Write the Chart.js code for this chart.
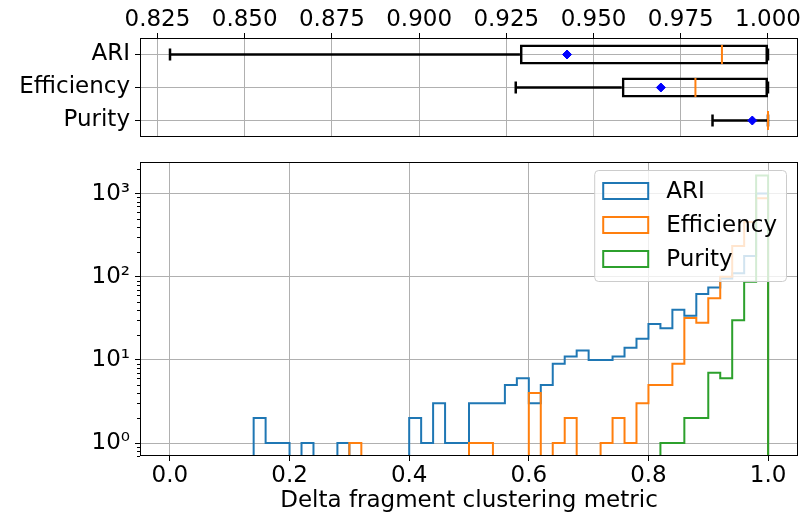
<!DOCTYPE html>
<html>
<head>
<meta charset="utf-8">
<script src="https://cdn.jsdelivr.net/npm/chart.js@4.4.0/dist/chart.umd.min.js"></script>
<style>
  html, body { margin: 0; padding: 0; background: #fff; }
  #wrap { position: relative; width: 802px; height: 518px; }
  canvas { position: absolute; left: 0; top: 0; }
</style>
</head>
<body>
<div id="wrap">
  <canvas id="hist" width="802" height="518"></canvas>
  <canvas id="box" width="802" height="139"></canvas>
</div>
<script>
// ---- data ----
const metrics = ["ARI", "Efficiency", "Purity"];

// box plot summary (top panel)
const whiskerLow = [0.8286, 0.9277, 0.9841];
const q1 = [0.9289, 0.9581, 1.0];
const median = [0.9868, 0.9792, 1.0];
const q3 = [1.0, 1.0, 1.0];
const whiskerHigh = [1.0, 1.0, 1.0];
const means = [0.9424, 0.9693, 0.9955];
const topTicks = [0.825, 0.85, 0.875, 0.9, 0.925, 0.95, 0.975, 1.0];

// histogram counts, 50 bins of width 0.02 over [0, 1]
const ariCounts = [
  0, 0, 0, 0, 0, 0, 0, 2, 1, 1,
  0, 1, 0, 0, 1, 0, 0, 0, 0, 0,
  2, 1, 3, 1, 1, 3, 3, 3, 5, 6,
  3, 5, 9, 11, 13, 10, 10, 11, 14, 18,
  27, 24, 40, 34, 62, 74, 95, 110, 178, 1000
];
const effCounts = [
  0, 0, 0, 0, 0, 0, 0, 0, 0, 0,
  0, 0, 0, 0, 0, 1, 0, 0, 0, 0,
  0, 0, 0, 0, 0, 1, 1, 0, 0, 0,
  4, 0, 1, 2, 0, 0, 1, 2, 1, 3,
  5, 5, 9, 32, 28, 55, 100, 235, 455, 880
];
const purCounts = [
  0, 0, 0, 0, 0, 0, 0, 0, 0, 0,
  0, 0, 0, 0, 0, 0, 0, 0, 0, 0,
  0, 0, 0, 0, 0, 0, 0, 0, 0, 0,
  0, 0, 0, 0, 0, 0, 0, 0, 0, 0,
  0, 1, 1, 2, 2, 7, 6, 30, 87, 1650
];
const binStart = 0, binWidth = 0.02;
const xTicks = [0, 0.2, 0.4, 0.6, 0.8, 1.0];
const logTicks = [1, 10, 100, 1000];

const BLUE = "#1f77b4", ORANGE = "#ff7f0e", GREEN = "#2ca02c";
const GRID = "#b0b0b0";
const FS = 23;

Chart.defaults.font.family = "DejaVu Sans";
Chart.defaults.color = "#000";
Chart.defaults.animation = false;

const frame = {
  id: "frame",
  afterDraw(chart) {
    const a = chart.chartArea, ctx = chart.ctx;
    ctx.save();
    ctx.strokeStyle = "#000";
    ctx.lineWidth = 1;
    ctx.strokeRect(Math.round(a.left) + 0.5, Math.round(a.top) + 0.5,
      Math.round(a.right - a.left) - 1, Math.round(a.bottom - a.top) - 1);
    ctx.restore();
  }
};

// fixed axis sizes, no label overflow padding
const fixW = w => s => { s.width = w; s.paddingTop = 0; s.paddingBottom = 0; };
const fixH = h => s => { s.height = h; s.paddingLeft = 0; s.paddingRight = 0; };

// ---- top: box plot ----
const LW = 2.5;
const boxDatasets = [];
boxDatasets.push({
  type: "line", label: "mean", showLine: false,
  data: metrics.map((m, i) => ({ x: means[i], y: m })),
  pointStyle: "rectRot", pointRadius: 4.5,
  pointBackgroundColor: "#0000ff", pointBorderColor: "#0000ff", pointBorderWidth: 1
});
boxDatasets.push({
  type: "line", label: "median", showLine: false,
  data: metrics.map((m, i) => ({ x: median[i], y: m })),
  pointStyle: "line", pointRotation: 90, pointRadius: 9.5,
  pointBorderColor: ORANGE, pointBorderWidth: 2
});
boxDatasets.push({
  type: "bar", label: "box",
  data: metrics.map((m, i) => [q1[i], q3[i]]),
  backgroundColor: "rgba(0,0,0,0)", borderColor: "#000", borderWidth: LW,
  borderSkipped: false, barPercentage: 0.6, categoryPercentage: 1
});
metrics.forEach((m, i) => {
  boxDatasets.push({
    type: "line", label: "lo " + m,
    data: [{ x: whiskerLow[i], y: m }, { x: q1[i], y: m }],
    borderColor: "#000", borderWidth: LW,
    pointStyle: "line", pointRotation: 90, pointRadius: [6, 0],
    pointBorderColor: "#000", pointBorderWidth: LW
  });
  boxDatasets.push({
    type: "line", label: "hi " + m,
    data: [{ x: q3[i], y: m }, { x: whiskerHigh[i], y: m }],
    borderColor: "#000", borderWidth: LW,
    pointStyle: "line", pointRotation: 90, pointRadius: [0, 6],
    pointBorderColor: "#000", pointBorderWidth: LW
  });
});

new Chart(document.getElementById("box"), {
  type: "bar",
  data: { labels: metrics, datasets: boxDatasets },
  options: {
    responsive: false,
    devicePixelRatio: 1,
    indexAxis: "y",
    layout: { autoPadding: false, padding: { left: 0, right: 4, top: 0, bottom: 2 } },
    plugins: { legend: { display: false }, tooltip: { enabled: false } },
    scales: {
      x: {
        type: "linear", position: "top", min: 0.8200, max: 1.0086,
        afterBuildTicks: s => { s.ticks = topTicks.map(v => ({ value: v })); },
        ticks: { font: { size: FS }, color: "#000", padding: -1, maxRotation: 0, autoSkip: false,
                 callback: v => Number(v).toFixed(3) },
        grid: { color: GRID, lineWidth: 1, tickColor: "#000", tickLength: 5 },
        border: { display: false },
        afterFit: fixH(38)
      },
      y: {
        type: "category", labels: metrics, offset: true,
        ticks: { font: { size: FS }, color: "#000", padding: 5, autoSkip: false },
        grid: { offset: false, color: GRID, lineWidth: 1, tickColor: "#000", tickLength: 5 },
        border: { display: false },
        afterFit: fixW(140)
      }
    }
  },
  plugins: [frame]
});

// ---- bottom: step histograms ----
const FLOOR = 0.05;
function stepPoints(counts) {
  const pts = [{ x: binStart, y: FLOOR }];
  counts.forEach((c, i) => pts.push({ x: binStart + i * binWidth, y: c > 0 ? c : FLOOR }));
  pts.push({ x: binStart + counts.length * binWidth, y: FLOOR });
  return pts;
}

const sup = ["\u2070", "\u00b9", "\u00b2", "\u00b3"];

const minorTicks = {
  id: "minorTicks",
  afterDraw(chart) {
    const s = chart.scales.y, ctx = chart.ctx, a = chart.chartArea;
    ctx.save();
    ctx.strokeStyle = "#000";
    ctx.lineWidth = 1;
    logTicks.concat([0.1]).forEach(base => {
      for (let m = 2; m <= 9; m++) {
        const v = base * m;
        if (v < s.min || v > s.max) continue;
        const y = Math.round(s.getPixelForValue(v)) + 0.5;
        ctx.beginPath();
        ctx.moveTo(a.left - 3, y);
        ctx.lineTo(a.left, y);
        ctx.stroke();
      }
    });
    ctx.restore();
  }
};

const boxLegend = {
  id: "boxLegend",
  afterDraw(chart) {
    const ctx = chart.ctx, a = chart.chartArea;
    const ds = chart.data.datasets;
    const fs = FS, rowH = 34, handleW = 45, handleH = 16;
    ctx.save();
    ctx.font = fs + "px 'DejaVu Sans'";
    const textW = Math.max(...ds.map(d => ctx.measureText(d.label).width));
    const w = 9 + handleW + 18 + textW + 9;
    const h = 111;
    const right = a.right - 12, top = a.top + 8, left = right - w;
    ctx.beginPath();
    ctx.roundRect(left + 0.5, top + 0.5, w, h, 4);
    ctx.fillStyle = "rgba(255,255,255,0.8)";
    ctx.fill();
    ctx.strokeStyle = "#cccccc";
    ctx.lineWidth = 1;
    ctx.stroke();
    ds.forEach((d, i) => {
      const cy = top + 21 + i * rowH;
      ctx.strokeStyle = d.borderColor;
      ctx.lineWidth = 2;
      ctx.strokeRect(left + 9, cy - handleH / 2, handleW, handleH);
      ctx.fillStyle = "#000";
      ctx.textBaseline = "middle";
      ctx.fillText(d.label, left + 9 + handleW + 18, cy + 1);
    });
    ctx.restore();
  }
};

const series = [
  { label: "ARI", counts: ariCounts, color: BLUE },
  { label: "Efficiency", counts: effCounts, color: ORANGE },
  { label: "Purity", counts: purCounts, color: GREEN }
];

new Chart(document.getElementById("hist"), {
  type: "line",
  data: {
    datasets: series.map((s, i) => ({
      label: s.label,
      data: stepPoints(s.counts),
      borderColor: s.color,
      backgroundColor: "rgba(0,0,0,0)",
      borderWidth: 2,
      stepped: true,
      pointRadius: 0,
      fill: false,
      order: series.length - i
    }))
  },
  options: {
    responsive: false,
    devicePixelRatio: 1,
    layout: { autoPadding: false, padding: { left: 0, right: 4, top: 162, bottom: 0 } },
    plugins: { legend: { display: false }, tooltip: { enabled: false } },
    scales: {
      x: {
        type: "linear", min: -0.05, max: 1.05,
        afterBuildTicks: s => { s.ticks = xTicks.map(v => ({ value: v })); },
        ticks: { font: { size: FS }, color: "#000", padding: 1, maxRotation: 0, autoSkip: false,
                 callback: v => Number(v).toFixed(1) },
        grid: { color: GRID, lineWidth: 1, tickColor: "#000", tickLength: 5 },
        border: { display: false },
        title: { display: true, text: "Delta fragment clustering metric", font: { size: FS }, color: "#000", padding: { top: 2, bottom: 3 } },
        afterFit: fixH(62)
      },
      y: {
        type: "logarithmic", min: 0.698, max: 2400,
        afterBuildTicks: s => { s.ticks = logTicks.map(v => ({ value: v, major: true })); },
        ticks: { font: { size: FS }, color: "#000", padding: 5, autoSkip: false,
                 callback: v => "10" + sup[Math.round(Math.log10(v))] },
        grid: { color: GRID, lineWidth: 1, tickColor: "#000", tickLength: 5 },
        border: { display: false },
        afterFit: fixW(140)
      }
    }
  },
  plugins: [frame, minorTicks, boxLegend]
});
</script>
</body>
</html>
